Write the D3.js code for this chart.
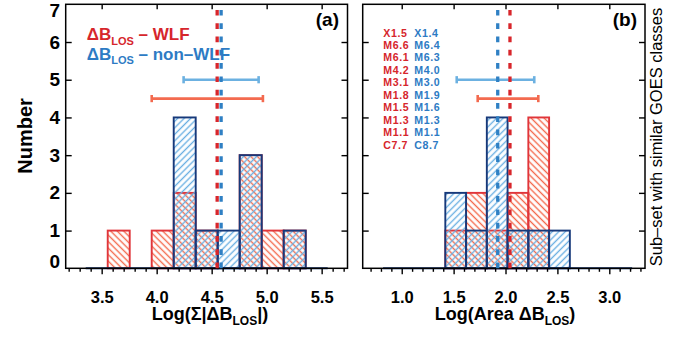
<!DOCTYPE html>
<html><head><meta charset="utf-8">
<script src="https://cdn.jsdelivr.net/npm/d3@7"></script>
<style>body{margin:0;background:#fff}</style>
</head><body><svg id="c" width="688" height="337"></svg>
<script>
// ---------- data ----------
const binWidth = 0.2;
const binStartA = 3.355;
const binStartB = 0.82;
const wlfA = [0,1,0,1,2,1,0,3,1,1,0];
const nonA = [0,0,0,0,4,1,1,3,0,1,0];
const wlfB = [0,0,0,1,2,1,2,4,0,0,0,0];
const nonB = [0,0,0,2,1,4,1,1,1,0,0,0];
const meanWLF = [4.55, 2.043];
const meanNon = [4.586, 1.925];
const errWLF = [[3.955, 4.966], [1.732, 2.316]];
const errNon = [[4.245, 4.927], [1.53, 2.277]];
const errYWLF = 4.5, errYNon = 5;
const ticksA = [3.5, 4.0, 4.5, 5.0, 5.5];
const ticksB = [1.0, 1.5, 2.0, 2.5, 3.0];
const yTicks = [0,1,2,3,4,5,6,7];
const flaresWLF = ["X1.5","M6.6","M6.1","M4.2","M3.1","M1.8","M1.5","M1.3","M1.1","C7.7"];
const flaresNon = ["X1.4","M6.4","M6.3","M4.0","M3.0","M1.9","M1.6","M1.3","M1.1","C8.7"];

// ---------- style ----------
const FONT = '"Liberation Sans", Arial, Helvetica, sans-serif';
const C = {
  redOut:"#e0353a", navy:"#17397a", redHatch:"#f4694c", blueHatch:"#6aafe2",
  redText:"#d6262c", blueText:"#2d7bc4", redDash:"#d8262b", blueDash:"#2f80c4",
  redErr:"#f36a4f", blueErr:"#6cb1e1"
};
const svg = d3.select("#c").style("font-family", FONT);
const defs = svg.append("defs");
function hatch(id, color, angle){
  const p = defs.append("pattern").attr("id", id).attr("patternUnits","userSpaceOnUse")
    .attr("width", 4.6).attr("height", 4.6).attr("patternTransform", `rotate(${angle})`);
  p.append("line").attr("x1",2.3).attr("x2",2.3).attr("y1",-1).attr("y2",6)
    .attr("stroke", color).attr("stroke-width", 1.4);
}
hatch("hRed", C.redHatch, -45);
hatch("hBlue", C.blueHatch, 45);

const y = d3.scaleLinear().domain([0,7]).range([268.3, 4.3]);
const xA = d3.scaleLinear().domain([3.173, 5.735]).range([65.7, 347.5]);
const xB = d3.scaleLinear().domain([0.624, 3.344]).range([362.7, 645]);

function minors(lo, hi, majors){
  const out=[];
  for(let v=Math.round(lo*10); v<=Math.round(hi*10); v++){
    const t=v/10; if(!majors.some(m=>Math.abs(m-t)<1e-6)) out.push(t);
  }
  return out;
}

function panel(x, wlf, non, start, k, ticks, minorLo, minorHi, showY){
  const g = svg.append("g");
  const bars = (counts)=>counts.map((c,i)=>({c, x0:start+i*binWidth, x1:start+(i+1)*binWidth})).filter(d=>d.c>0);
  const drawBars = (counts, fill, stroke)=>{
    g.append("g").selectAll("rect").data(bars(counts)).join("rect")
      .attr("x", d=>x(d.x0)).attr("width", d=>x(d.x1)-x(d.x0))
      .attr("y", d=>y(d.c)).attr("height", d=>y(0)-y(d.c))
      .attr("fill", fill).attr("stroke", stroke).attr("stroke-width", 1.9);
  };
  drawBars(wlf, "url(#hRed)", C.redOut);
  drawBars(non, "url(#hBlue)", C.navy);
  // histogram baseline
  g.append("line").attr("x1", x(start)).attr("x2", x(start+wlf.length*binWidth))
    .attr("y1", y(0)).attr("y2", y(0)).attr("stroke", C.navy).attr("stroke-width", 2);

  // frame
  const [L,R] = x.range();
  g.append("rect").attr("x",L).attr("y",y(7)).attr("width",R-L).attr("height",y(0)-y(7))
    .attr("fill","none").attr("stroke","#000").attr("stroke-width",1.5);

  // axes
  const fmt = d3.format(".1f");
  const bot = g.append("g").attr("transform",`translate(0,${y(0)})`)
    .call(d3.axisBottom(x).tickValues(ticks).tickSize(6).tickPadding(16.5).tickFormat(fmt));
  const botMin = g.append("g").attr("transform",`translate(0,${y(0)})`)
    .call(d3.axisBottom(x).tickValues(minors(minorLo, minorHi, ticks)).tickSize(3.5).tickFormat(""));
  const top = g.append("g").attr("transform",`translate(0,${y(7)})`)
    .call(d3.axisTop(x).tickValues(ticks).tickSize(-5).tickFormat(""));
  const left = g.append("g").attr("transform",`translate(${L},0)`)
    .call(d3.axisLeft(y).tickValues(yTicks.slice(1,-1).concat([0,7])).tickSize(-6).tickPadding(5.7)
      .tickFormat(showY ? d3.format("d") : ""));
  const right = g.append("g").attr("transform",`translate(${R},0)`)
    .call(d3.axisRight(y).tickValues(yTicks.slice(1,-1)).tickSize(-6).tickFormat(""));
  [bot, botMin, top, left, right].forEach(a=>{
    a.select(".domain").remove();
    a.selectAll("line").attr("stroke","#000").attr("stroke-width",1.4);
    a.selectAll("text").attr("fill","#000").style("font-family",FONT).style("font-weight","bold");
  });
  bot.selectAll("text").style("font-size","16.5px");
  left.selectAll("text").style("font-size","19px");
  left.selectAll(".tick").filter(d=>d===7).select("text").attr("dy","0.62em");
  left.selectAll(".tick").filter(d=>d===0).select("text").attr("dy","-0.05em");
  left.selectAll(".tick").filter(d=>d===0||d===7).select("line").remove();

  // error bars
  const eb = (lohi, yv, col)=>{
    const gy=y(yv);
    g.append("line").attr("x1",x(lohi[0])).attr("x2",x(lohi[1])).attr("y1",gy).attr("y2",gy)
      .attr("stroke",col).attr("stroke-width",2.6);
    lohi.forEach(v=>g.append("line").attr("x1",x(v)).attr("x2",x(v)).attr("y1",gy-3.6).attr("y2",gy+3.6)
      .attr("stroke",col).attr("stroke-width",2.6));
  };
  eb(errNon[k], errYNon, C.blueErr);
  eb(errWLF[k], errYWLF, C.redErr);

  // mean dashed lines
  const dl = (v,col)=>g.append("line").attr("x1",x(v)).attr("x2",x(v)).attr("y1",y(0)).attr("y2",y(7)+3)
    .attr("stroke",col).attr("stroke-width",3.3).attr("stroke-dasharray","5.7,7.6");
  dl(meanWLF[k], C.redDash);
  dl(meanNon[k], C.blueDash);
  return g;
}

panel(xA, wlfA, nonA, binStartA, 0, ticksA, 3.2, 5.7, true);
panel(xB, wlfB, nonB, binStartB, 1, ticksB, 0.7, 3.3, false);

// ---------- texts ----------
function subText(xp, yp, pre, sub, post, size, subSize, col, anchor, dySub){
  const t = svg.append("text").attr("x",xp).attr("y",yp).attr("fill",col)
    .attr("text-anchor",anchor).style("font-weight","bold").style("font-size",size+"px");
  t.append("tspan").text(pre);
  t.append("tspan").attr("dy",dySub).style("font-size",subSize+"px").text(sub);
  t.append("tspan").attr("dy",-dySub).text(post);
  return t;
}
subText(86.7, 40, "ΔB", "LOS", " – WLF", 17, 11, C.redText, "start", 4.5);
subText(86.7, 59.5, "ΔB", "LOS", " – non–WLF", 17, 11, C.blueText, "start", 4.5);

svg.append("text").attr("x",339).attr("y",26).attr("text-anchor","end")
  .style("font-weight","bold").style("font-size","19px").text("(a)");
svg.append("text").attr("x",637).attr("y",26).attr("text-anchor","end")
  .style("font-weight","bold").style("font-size","19px").text("(b)");

subText(210, 320, "Log(Σ|ΔB", "LOS", "|)", 18, 12, "#000", "middle", 5);
subText(505, 320, "Log(Area ΔB", "LOS", ")", 18, 12, "#000", "middle", 5);

svg.append("text").attr("transform","translate(32,136) rotate(-90)").attr("text-anchor","middle")
  .style("font-weight","bold").style("font-size","20px").text("Number");
svg.append("text").attr("transform","translate(661.5,137) rotate(-90)").attr("text-anchor","middle")
  .style("font-size","16.5px").text("Sub–set with similar GOES classes");

const rowY = i => 32.7 + i*12.48;
svg.append("g").selectAll("text").data(flaresWLF).join("text")
  .attr("x",383.3).attr("y",(d,i)=>rowY(i)).attr("dy","0.36em").attr("fill",C.redText)
  .style("font-weight","bold").style("font-size","10.6px").style("letter-spacing","0.6px").text(d=>d);
svg.append("g").selectAll("text").data(flaresNon).join("text")
  .attr("x",414.3).attr("y",(d,i)=>rowY(i)).attr("dy","0.36em").attr("fill",C.blueText)
  .style("font-weight","bold").style("font-size","10.6px").style("letter-spacing","0.6px").text(d=>d);
</script></body></html>
